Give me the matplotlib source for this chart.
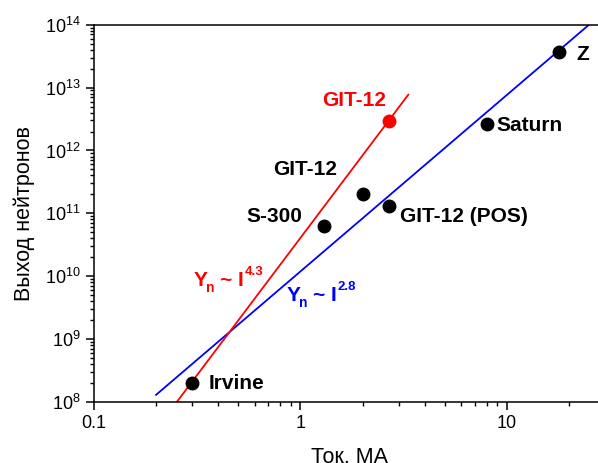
import matplotlib
matplotlib.use('Agg')
import matplotlib.pyplot as plt
from matplotlib.ticker import LogLocator, NullFormatter, FixedLocator, FixedFormatter

plt.rcParams['font.family'] = ['Liberation Sans', 'DejaVu Sans']
plt.rcParams['mathtext.fontset'] = 'custom'
plt.rcParams['mathtext.rm'] = 'Liberation Sans'
plt.rcParams['mathtext.bf'] = 'Liberation Sans:bold'

# machines: current (MA) and neutron yield
names = ['Irvine', 'S-300', 'GIT-12', 'GIT-12 (POS)', 'Saturn', 'Z']
current = [0.3, 1.3, 2.0, 2.7, 8.0, 17.9]
yield_n = [2.0e8, 6.2e10, 2.0e11, 1.3e11, 2.6e12, 3.7e13]

# red point (GIT-12, new)
red_current = [2.7]
red_yield = [2.95e12]

# fit lines, end points
blue_x = [0.2, 25.0]
blue_y = [1.3e8, 1.0e14]
red_x = [0.252, 3.33]
red_y = [1.0e8, 7.7e12]

fig = plt.figure(figsize=(5.98, 4.63), dpi=100)
ax = fig.add_axes([0.157, 0.1317, 0.8554, 0.815])

ax.plot(blue_x, blue_y, color='#0000ff', lw=1.3)
ax.plot(red_x, red_y, color='#ff0000', lw=1.3)
ax.plot(current, yield_n, 'o', color='black', ms=9, zorder=3)
ax.plot(red_current, red_yield, 'o', color='#ff0000', ms=9, zorder=3)

ax.set_xscale('log')
ax.set_yscale('log')
ax.set_xlim(0.1, 30)
ax.set_ylim(1e8, 1e14)

ax.xaxis.set_major_locator(FixedLocator([0.1, 1, 10]))
ax.xaxis.set_major_formatter(FixedFormatter(['0.1', '1', '10']))
ax.xaxis.set_minor_locator(LogLocator(base=10, subs=range(2, 10), numticks=20))
ax.xaxis.set_minor_formatter(NullFormatter())
ax.yaxis.set_major_locator(LogLocator(base=10, numticks=20))
ax.yaxis.set_minor_locator(LogLocator(base=10, subs=range(2, 10), numticks=20))
ax.yaxis.set_minor_formatter(NullFormatter())

ax.tick_params(which='major', direction='out', length=6, width=1.1, labelsize=13)
ax.tick_params(which='minor', direction='out', length=3, width=1.0)
ax.tick_params(top=False, right=False)
for s in ['left', 'bottom', 'top']:
    ax.spines[s].set_linewidth(1.1)
ax.spines['right'].set_visible(False)

ax.set_xlabel('Ток, МА', fontsize=15.5, labelpad=11)
ax.set_ylabel('Выход нейтронов', fontsize=15.5, labelpad=7)

fs = 15
ax.text(0.358, 1.98e8, 'Irvine', fontsize=fs, fontweight='bold', va='center', ha='left')
ax.text(1.025, 8.8e10, 'S-300', fontsize=fs, fontweight='bold', va='center', ha='right')
ax.text(0.738, 5.0e11, 'GIT-12', fontsize=fs, fontweight='bold', va='center', ha='left')
ax.text(3.03, 8.8e10, 'GIT-12 (POS)', fontsize=fs, fontweight='bold', va='center', ha='left')
ax.text(8.9, 2.5e12, 'Saturn', fontsize=fs, fontweight='bold', va='center', ha='left')
ax.text(21.8, 3.3e13, 'Z', fontsize=fs, fontweight='bold', va='center', ha='left')
ax.text(1.28, 6.2e12, 'GIT-12', fontsize=fs, fontweight='bold', va='center', ha='left',
        color='#ff0000')


# "Yn ~ I^k" labels, built from pieces (offsets in pixels from the Y)
def power_label(x, y, exponent, color):
    parts = [('Y', 0, 0, 15), ('n', 12.8, -6, 10), ('~', 26, 0, 15),
             ('I', 44.8, 0, 15), (exponent, 51, 11, 9.5)]
    for s, dx, dy, size in parts:
        ax.annotate(s, (x, y), xytext=(dx * 0.72, dy * 0.72), textcoords='offset points',
                    fontsize=size, fontweight='bold', color=color,
                    va='baseline', ha='left')


power_label(0.303, 6.9e9, '4.3', '#ff0000')
power_label(0.853, 4.1e9, '2.8', '#0000ff')

fig.savefig('out.png', dpi=100)
